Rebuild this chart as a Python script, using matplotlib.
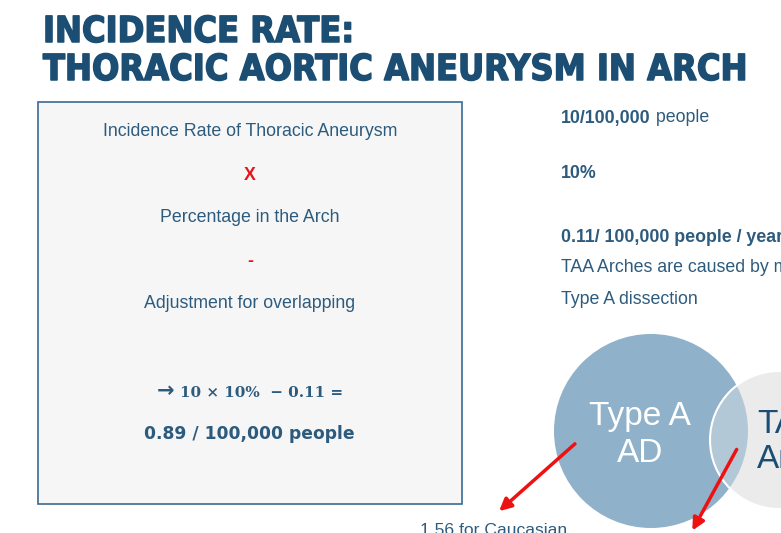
import matplotlib
matplotlib.use("Agg")
import matplotlib.pyplot as plt
import matplotlib.patheffects as pe
from matplotlib.patches import Rectangle, Circle

# ---- content ----
title_lines = ["INCIDENCE RATE:", "THORACIC AORTIC ANEURYSM IN ARCH"]
box_lines = ["Incidence Rate of Thoracic Aneurysm", "X", "Percentage in the Arch", "-",
             "Adjustment for overlapping"]
formula_arrow = "\u2192"
formula_text = "10 \u00d7 10%  \u2212 0.11 ="
result_text = "0.89 / 100,000 people"
right_bold = ["10/100,000", "10%", "0.11/ 100,000 people / year"]
right_regular_suffix = [" people", "", ""]
right_notes = ["TAA Arches are caused by m", "Type A dissection"]
venn_a_lines = ["Type A", "AD"]
venn_b_lines = ["TAA", "Arch"]
bottom_note = "1.56 for Caucasian"

W, H = 781, 533
fig = plt.figure(figsize=(W / 100, H / 100), dpi=100)
ax = fig.add_axes([0, 0, 1, 1])
ax.set_xlim(0, W)
ax.set_ylim(H, 0)
ax.axis("off")

TITLE_C = "#1b4e72"
TEXT_C = "#2d5b7e"
SANS = ["Liberation Sans", "DejaVu Sans"]

# title
for i, t in enumerate(title_lines):
    ax.text(43, 42 + i * 38, t, fontsize=25.8, fontweight="bold", color=TITLE_C,
            family=["Liberation Sans Narrow", "DejaVu Sans"], fontstretch="condensed",
            va="baseline", ha="left",
            path_effects=[pe.withStroke(linewidth=1.1, foreground=TITLE_C)])

# box
ax.add_patch(Rectangle((38, 102), 424, 402, facecolor="#f6f6f6", edgecolor="#3a6a93", lw=1.2))
ys = [132, 175, 218, 261, 304]
for t, y in zip(box_lines, ys):
    red = t in ("X", "-")
    ax.text(250, y, t, fontsize=12.8, color="#e8141b" if red else TEXT_C,
            fontweight="bold" if red else "normal", family=SANS, ha="center", va="center")
ax.text(157, 391, formula_arrow, fontsize=15, fontweight="bold", color=TEXT_C,
        family=["DejaVu Sans"], ha="left", va="center")
ax.text(180, 397, formula_text, fontsize=10.9, fontweight="bold", color=TEXT_C,
        family=["DejaVu Serif"], ha="left", va="baseline")
ax.text(249, 434, result_text, fontsize=12.3, fontweight="bold", color=TEXT_C,
        family=["DejaVu Sans"], ha="center", va="center")

# right column
fig.canvas.draw()
renderer = fig.canvas.get_renderer()
ys_r = [118, 174, 237]
for b, s, y in zip(right_bold, right_regular_suffix, ys_r):
    tb = ax.text(561, y, b, fontsize=12.8, fontweight="bold", color=TEXT_C, family=SANS,
                 ha="left", va="center")
    if s:
        bb = tb.get_window_extent(renderer=renderer)
        x_end = ax.transData.inverted().transform((bb.x1, 0))[0]
        ax.text(x_end, y, s, fontsize=12.8, color=TEXT_C, family=SANS, ha="left", va="center")
for t, y in zip(right_notes, [268, 300]):
    ax.text(561, y, t, fontsize=12.8, color=TEXT_C, family=SANS, ha="left", va="center")

# venn circles
blue = Circle((651, 431), 97, facecolor="#8fb1ca", edgecolor="none", zorder=2)
ax.add_patch(blue)
grey = Circle((779, 440), 69, facecolor="#ebebeb", edgecolor="none", zorder=3)
ax.add_patch(grey)
overlap = Circle((651, 431), 97, facecolor="#8fb1ca", edgecolor="none", alpha=0.6, zorder=4)
ax.add_patch(overlap)
overlap.set_clip_path(grey)
ax.add_patch(Circle((779, 440), 69, facecolor="none", edgecolor="white", lw=1.5, zorder=5))

for t, yb in zip(venn_a_lines, [425, 462]):
    ax.text(640, yb, t, fontsize=24, color="white", family=SANS,
            ha="center", va="baseline", zorder=6)
for t, yb in zip(venn_b_lines, [433, 468]):
    ax.text(757, yb, t, fontsize=24, color=TITLE_C, family=SANS,
            ha="left", va="baseline", zorder=6)

# arrows
ax.annotate("", xy=(497, 513), xytext=(577, 442),
            arrowprops=dict(arrowstyle="-|>", color="#ee1111", lw=2.5, mutation_scale=18),
            zorder=7)
ax.annotate("", xy=(691, 533), xytext=(738, 447),
            arrowprops=dict(arrowstyle="-|>", color="#ee1111", lw=2.5, mutation_scale=18),
            zorder=7)

ax.text(420, 523, bottom_note, fontsize=12.6, color=TEXT_C, family=SANS,
        ha="left", va="top")

fig.savefig("out.png", dpi=100)
